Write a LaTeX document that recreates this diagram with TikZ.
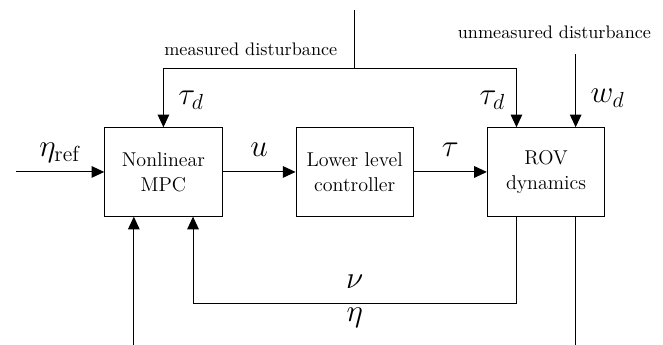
\documentclass[tikz,border=0pt]{standalone}
\usetikzlibrary{arrows.meta,positioning,calc}

\begin{document}
\begin{tikzpicture}[
            node distance=1.41cm,
            line width=0.55pt,
            box/.style={draw, minimum width=2.27cm, minimum height=1.71cm, align=center, font=\fontsize{11}{13.6}\selectfont},
            sig/.style={font=\LARGE, text depth=0pt, inner sep=0pt},
            txt/.style={font=\normalsize},
            >={Triangle[length=7pt,width=6.4pt]}
        ]
        \useasboundingbox (0,0) rectangle (12.82,-6.67);

        \node[box] (mpc) at (3.16,-3.325) {Nonlinear\\MPC};
        \node[box, right=of mpc] (llc) {Lower level\\controller};
        \node[box, right=of llc] (rov) {ROV\\dynamics};

        % free ends and split points
        \coordinate[left=1.7cm of mpc] (ref);
        \coordinate[above=2.26cm of llc.north] (mdtop);
        \coordinate[above=1.14cm of llc.north] (split);
        \coordinate (rovN1) at ($(rov.north west)!0.25!(rov.north east)$);
        \coordinate (rovN2) at ($(rov.north west)!0.75!(rov.north east)$);
        \coordinate (rovS1) at ($(rov.south west)!0.25!(rov.south east)$);
        \coordinate (rovS2) at ($(rov.south west)!0.75!(rov.south east)$);
        \coordinate (mpcS1) at ($(mpc.south west)!0.25!(mpc.south east)$);
        \coordinate (mpcS2) at ($(mpc.south west)!0.75!(mpc.south east)$);
        \coordinate[above=1.41cm of rovN2] (wdin);
        \coordinate (etaout) at (rovS2 |- 0,-6.67);
        \coordinate (etain) at (mpcS1 |- 0,-6.67);

        \draw[->] (ref) -- node[sig, above=8pt] {$\eta_{\mathrm{ref}}$} (mpc);
        \draw[->] (mpc) -- node[sig, above=8pt] {$u$} (llc);
        \draw[->] (llc) -- node[sig, above=8pt] {$\tau$} (rov);

        \draw (mdtop) -- node[txt, pos=0.68, left=6pt] {measured disturbance} (split);
        \draw[->] (split) -| node[sig, pos=0.75, right=8pt] {$\tau_d$} (mpc.north);
        \draw[->] (split) -| node[sig, pos=0.75, left=6pt] {$\tau_d$} (rovN1);

        \node[txt, above=0.18cm of wdin, xshift=-0.41cm] (umd) {unmeasured disturbance};
        \draw[->] (wdin) -- node[sig, pos=0.57, right=8pt] {$w_d$} (rovN2);

        \draw[->] (rovS1) -- ++(0,-1.68) -| node[sig, pos=0.25, above=8pt] {$\nu$} node[sig, pos=0.25, below=2pt] {$\eta$} (mpcS2);
        \draw (rovS2) -- (etaout);
        \draw[->] (etain) -- (mpcS1);
    \end{tikzpicture}
\end{document}
